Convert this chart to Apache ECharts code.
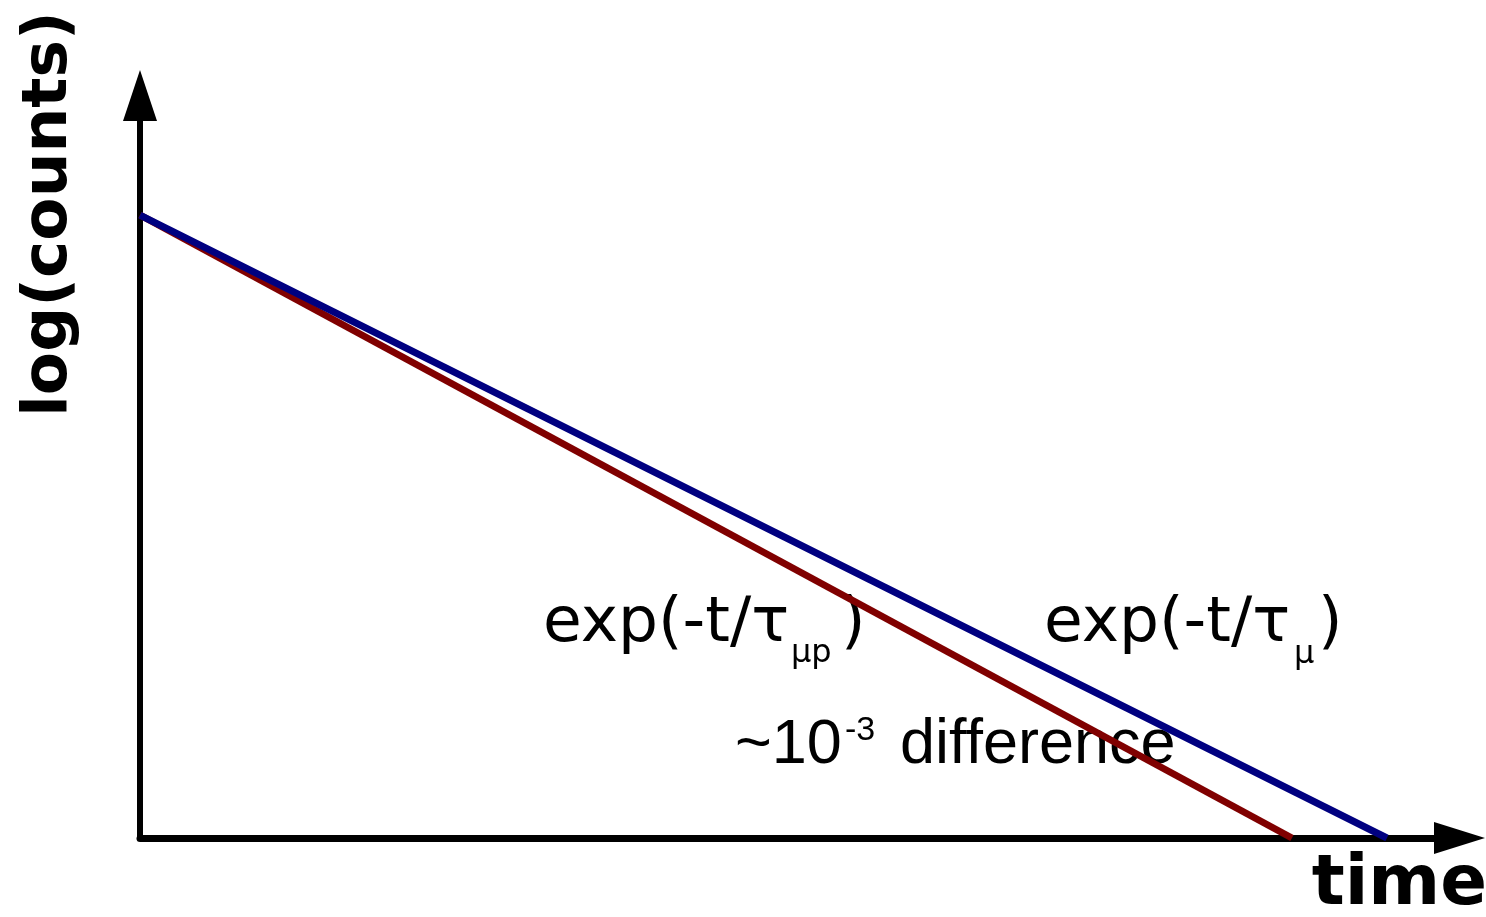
<!DOCTYPE html>
<html>
<head>
<meta charset="utf-8">
<title>log(counts) vs time</title>
<script src="https://cdn.jsdelivr.net/npm/echarts@6/dist/echarts.min.js"></script>
<style>
  html, body { margin: 0; padding: 0; background: #ffffff; }
  #chart { width: 1486px; height: 917px; }
</style>
</head>
<body>
<div id="chart"></div>
<script>
// Schematic decay curves on a log scale: straight lines from a common start
const timeRange = [0, 10];
const logCountRange = [0, 10];

// free muon decay, lifetime tau_mu
const muTimes = [0, 9.45];
const muLogCounts = [8.39, 0];

// muon in muonic hydrogen, lifetime tau_mup (slightly shorter)
const mupTimes = [0, 8.73];
const mupLogCounts = [8.39, 0];

const axisTitles = { x: 'time', y: 'log(counts)' };

const zip = (xs, ys) => xs.map((x, i) => [x, ys[i]]);

const chart = echarts.init(document.getElementById('chart'), null, { renderer: 'canvas' });

// place a text element by its alphabetic baseline
const MID = 0.32;
function txt(text, x, baseline, size, family, weight, align) {
  return {
    type: 'text',
    x: x,
    y: baseline - MID * size,
    style: {
      text: text,
      fontSize: size,
      fontFamily: family,
      fontWeight: weight || 'normal',
      fill: '#000000',
      textAlign: align || 'left',
      textVerticalAlign: 'middle'
    }
  };
}

const dejavu = 'DejaVu Sans';
const liberation = 'Liberation Sans';

const axisCommon = {
  type: 'value',
  axisTick: { show: false },
  axisLabel: { show: false },
  splitLine: { show: false }
};

chart.setOption({
  animation: false,
  backgroundColor: '#ffffff',
  grid: { left: 140, right: 26.5, top: 95.5, bottom: 79, containLabel: false },
  xAxis: Object.assign({}, axisCommon, {
    min: timeRange[0],
    max: timeRange[1],
    axisLine: {
      show: true,
      onZero: false,
      symbol: ['none', 'triangle'],
      symbolSize: [32, 51],
      lineStyle: { color: '#000000', width: 7 }
    }
  }),
  yAxis: Object.assign({}, axisCommon, {
    min: logCountRange[0],
    max: logCountRange[1],
    axisLine: {
      show: true,
      onZero: false,
      symbol: ['none', 'triangle'],
      symbolSize: [34, 51],
      lineStyle: { color: '#000000', width: 6 }
    }
  }),
  series: [
    {
      name: 'exp(-t/τμp)',
      type: 'line',
      data: zip(mupTimes, mupLogCounts),
      showSymbol: false,
      symbol: 'none',
      lineStyle: { color: '#800000', width: 7 },
      z: 2
    },
    {
      name: 'exp(-t/τμ)',
      type: 'line',
      data: zip(muTimes, muLogCounts),
      showSymbol: false,
      symbol: 'none',
      lineStyle: { color: '#000080', width: 7 },
      z: 3
    }
  ],
  graphic: [
    // axis titles
    {
      type: 'text',
      x: 70 - MID * 63,
      y: 214,
      rotation: Math.PI / 2,
      style: {
        text: axisTitles.y,
        fontSize: 63,
        fontFamily: dejavu,
        fontWeight: 'bold',
        fill: '#000000',
        textAlign: 'center',
        textVerticalAlign: 'middle'
      }
    },
    txt(axisTitles.x, 1487, 908, 69, dejavu, 'bold', 'right'),
    // curve labels
    txt('exp(-t/τ', 543, 645, 63, dejavu),
    txt('μp', 791, 664, 32, dejavu),
    txt(')', 841, 645, 63, dejavu),
    txt('exp(-t/τ', 1044, 645, 63, dejavu),
    txt('μ', 1294, 665, 32, dejavu),
    txt(')', 1318, 645, 63, dejavu),
    // difference note
    txt('~10', 735, 766, 63, liberation),
    txt('-3', 845, 742, 34, liberation),
    txt('difference', 900, 766, 63, liberation)
  ]
});
</script>
</body>
</html>
